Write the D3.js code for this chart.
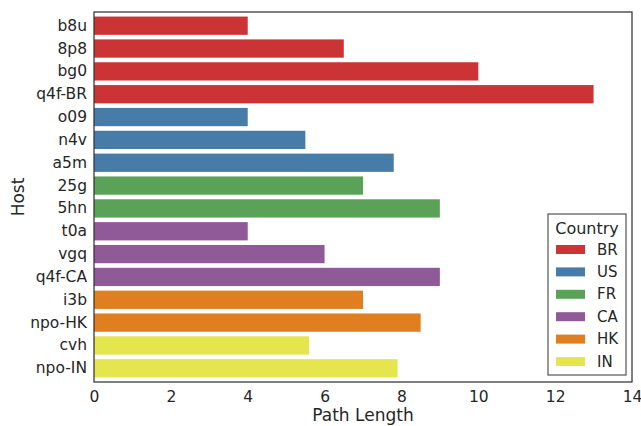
<!DOCTYPE html>
<html lang="en">
<head>
<meta charset="UTF-8">
<title>Path Length by Host</title>
<script src="https://d3js.org/d3.v7.min.js"></script>
<style>
    body { margin: 0; background: #fff; }
    svg { font-family: "DejaVu Sans", sans-serif; display: block; }
</style>
</head>
<body>
<svg id="chart" width="641" height="426"></svg>
<script>
    // data
    const hosts = ["b8u", "8p8", "bg0", "q4f-BR", "o09", "n4v", "a5m", "25g", "5hn",
        "t0a", "vgq", "q4f-CA", "i3b", "npo-HK", "cvh", "npo-IN"];
    const pathLengths = [4, 6.5, 10, 13, 4, 5.5, 7.8, 7, 9, 4, 6, 9, 7, 8.5, 5.6, 7.9];
    const hostCountry = ["BR", "BR", "BR", "BR", "US", "US", "US", "FR", "FR",
        "CA", "CA", "CA", "HK", "HK", "IN", "IN"];
    const countries = ["BR", "US", "FR", "CA", "HK", "IN"];
    const countryColors = ["#cb3335", "#477ca8", "#59a257", "#905998", "#df7f20", "#e5e54d"];
    const xTicks = [0, 2, 4, 6, 8, 10, 12, 14];

    const margin = { top: 12, right: 9, bottom: 44, left: 94 };
    const width = 641, height = 426;
    const svg = d3.select("#chart");

    const x = d3.scaleLinear().domain([0, 14]).range([margin.left, width - margin.right]);
    const y = d3.scaleBand().domain(hosts).range([margin.top, height - margin.bottom]).padding(0.2);
    const color = d3.scaleOrdinal().domain(countries).range(countryColors);

    const rows = hosts.map((h, i) => ({ host: h, value: pathLengths[i], country: hostCountry[i] }));

    svg.append("g")
        .selectAll("rect")
        .data(rows)
        .join("rect")
        .attr("x", x(0))
        .attr("y", d => y(d.host))
        .attr("width", d => x(d.value) - x(0))
        .attr("height", y.bandwidth())
        .attr("fill", d => color(d.country));

    // x axis (no tick marks, seaborn white style)
    const xAxis = svg.append("g")
        .attr("transform", `translate(0,${height - margin.bottom})`)
        .call(d3.axisBottom(x).tickValues(xTicks).tickSize(0).tickPadding(9))
        .attr("font-family", "DejaVu Sans")
        .attr("font-size", null);
    xAxis.select(".domain").remove();
    xAxis.selectAll("text").attr("font-size", "15.5px").attr("fill", "#262626");

    const yAxis = svg.append("g")
        .attr("transform", `translate(${margin.left},0)`)
        .call(d3.axisLeft(y).tickSize(0).tickPadding(7))
        .attr("font-family", "DejaVu Sans")
        .attr("font-size", null);
    yAxis.select(".domain").remove();
    yAxis.selectAll("text").attr("font-size", "15.5px").attr("fill", "#262626");

    // frame
    svg.append("rect")
        .attr("x", margin.left)
        .attr("y", margin.top)
        .attr("width", width - margin.left - margin.right)
        .attr("height", height - margin.top - margin.bottom)
        .attr("fill", "none")
        .attr("stroke", "#333")
        .attr("stroke-width", 1.25);

    // axis titles
    svg.append("text")
        .attr("x", (x(0) + x(14)) / 2)
        .attr("y", 421)
        .attr("text-anchor", "middle")
        .attr("font-size", "17px")
        .attr("fill", "#262626")
        .text("Path Length");

    svg.append("text")
        .attr("transform", `translate(24,${(margin.top + height - margin.bottom) / 2}) rotate(-90)`)
        .attr("text-anchor", "middle")
        .attr("font-size", "17px")
        .attr("fill", "#262626")
        .text("Host");

    // legend
    const legend = svg.append("g").attr("transform", "translate(548,214)");
    legend.append("rect")
        .attr("width", 78)
        .attr("height", 161)
        .attr("fill", "#fff")
        .attr("stroke", "#333")
        .attr("stroke-width", 1);
    legend.append("text")
        .attr("x", 39)
        .attr("y", 20)
        .attr("text-anchor", "middle")
        .attr("font-size", "16px")
        .attr("fill", "#262626")
        .text("Country");
    const item = legend.selectAll("g.item")
        .data(countries)
        .join("g")
        .attr("class", "item")
        .attr("transform", (d, i) => `translate(0,${35 + i * 22.4})`);
    item.append("rect")
        .attr("x", 8)
        .attr("y", -4)
        .attr("width", 29)
        .attr("height", 9)
        .attr("fill", d => color(d));
    item.append("text")
        .attr("x", 49)
        .attr("y", 5.5)
        .attr("font-size", "15px")
        .attr("fill", "#262626")
        .text(d => d);
</script>
</body>
</html>
